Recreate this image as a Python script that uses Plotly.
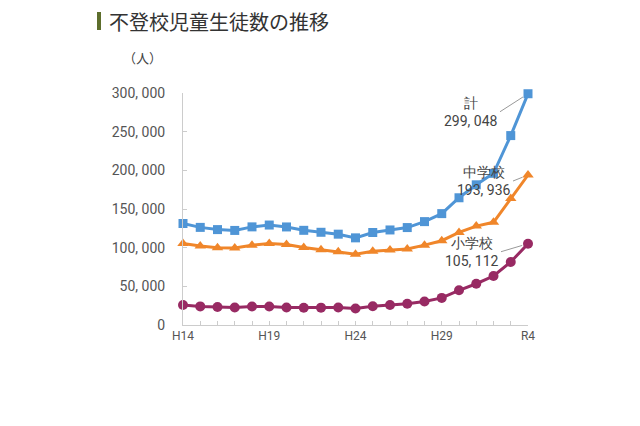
import plotly.graph_objects as go

years = ["H14","H15","H16","H17","H18","H19","H20","H21","H22","H23","H24",
         "H25","H26","H27","H28","H29","H30","R1","R2","R3","R4"]
shown_ticks = {"H14","H19","H24","H29","R4"}
elementary = [25869,24077,23318,22709,23825,23927,22652,22327,22463,22622,21243,
              24175,25864,27583,30448,35032,44841,53350,63350,81498,105112]
junior = [105383,102149,100040,99578,103069,105328,104153,100105,97428,94836,91446,
          95442,97033,98408,103235,108999,119687,127922,132777,163442,193936]
total = [131252,126226,123358,122287,126894,129255,126805,122432,119891,117458,112689,
         119617,122897,125991,133683,144031,164528,181272,196127,244940,299048]
ytick_vals = [0,50000,100000,150000,200000,250000,300000]
ytick_text = ["0","50, 000","100, 000","150, 000","200, 000","250, 000","300, 000"]

series = [
    ("計", total, "#4f95d6", "square", 9),
    ("中学校", junior, "#f0862a", "triangle-up", 10),
    ("小学校", elementary, "#982a63", "circle", 10),
]

xi = list(range(len(years)))
fig = go.Figure()
for name, vals, color, sym, ms in series:
    fig.add_trace(go.Scatter(x=xi, y=vals, mode="lines+markers", name=name,
                             line=dict(color=color, width=3),
                             marker=dict(symbol=sym, size=ms, color=color),
                             cliponaxis=False, showlegend=False))

num_font = "Roboto, sans-serif"
fig.update_layout(
    width=640, height=426,
    margin=dict(l=175, r=120, t=85, b=109),
    paper_bgcolor="white", plot_bgcolor="white",
    font=dict(family="Noto Sans CJK JP, sans-serif", color="#444"),
    xaxis=dict(range=[0, len(years)-1], tickvals=xi,
               ticktext=[y if y in shown_ticks else "" for y in years],
               showgrid=False, zeroline=False, showline=True, linecolor="#cccccc",
               linewidth=1, ticks="inside", ticklen=4, tickcolor="#cccccc",
               tickfont=dict(size=12, color="#555", family=num_font)),
    yaxis=dict(range=[0, 300000], tickvals=ytick_vals, ticktext=ytick_text,
               showgrid=False, zeroline=False, showline=True, linecolor="#cccccc",
               linewidth=1, ticks="inside", ticklen=4, tickcolor="#cccccc",
               ticklabelstandoff=14,
               tickfont=dict(size=14, color="#555", family=num_font)),
)

fig.add_shape(type="rect", xref="paper", yref="paper",
              x0=-86/345, x1=-82/345, y0=1+63/232, y1=1+81/232,
              fillcolor="#5d6e2c", line_width=0)
fig.add_annotation(text="不登校児童生徒数の推移", xref="paper", yref="paper",
                   x=-76/345, y=1+72/232, xanchor="left", yanchor="middle",
                   showarrow=False, font=dict(size=20, color="#333"))
fig.add_annotation(text="（人）", xref="paper", yref="paper",
                   x=-62/345, y=1+35/232, xanchor="left", yanchor="middle",
                   showarrow=False, font=dict(size=13, color="#444"))

label_offsets = {"計": (-28, 18), "中学校": (-15, 6), "小学校": (-27, 8)}
for name, vals, color, sym, ms in series:
    ax, ay = label_offsets[name]
    fig.add_annotation(x=xi[-1], y=vals[-1], xref="x", yref="y",
                       text=f"{name}<br>{vals[-1]:,}".replace(",", ", "),
                       showarrow=True, arrowhead=0, arrowwidth=1, arrowcolor="#999",
                       ax=ax, ay=ay, xanchor="right", yanchor="middle",
                       standoff=6, align="center",
                       font=dict(size=14, color="#444", family=num_font))

fig.write_html("out.html")
